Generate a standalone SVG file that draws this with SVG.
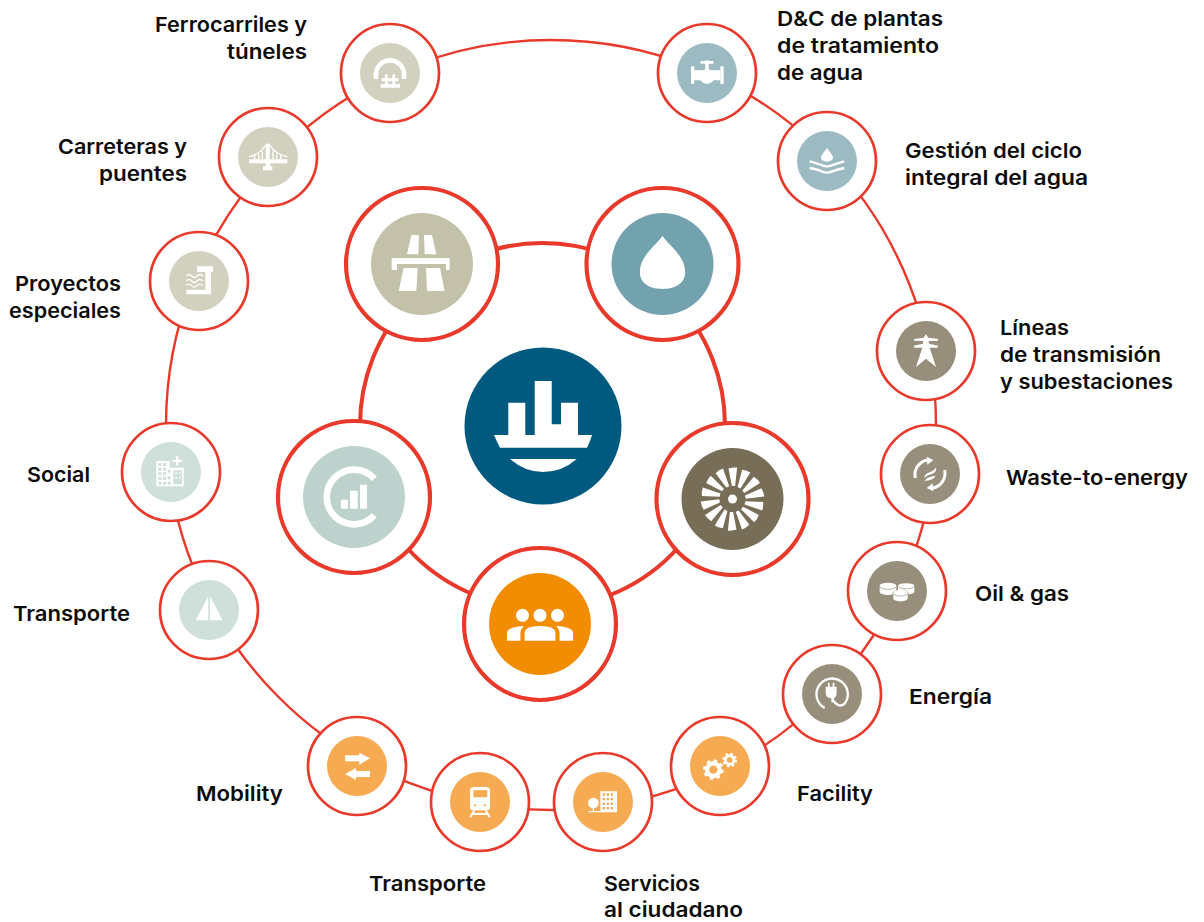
<svg xmlns="http://www.w3.org/2000/svg" xmlns:xlink="http://www.w3.org/1999/xlink" width="1204" height="922" viewBox="0 0 1204 922">
<style>
text{font-family:"Inter","Liberation Sans",sans-serif;font-weight:600;font-size:20.5px;fill:#0c0c0c}
.ring{fill:none;stroke:#e8392b}
.big{fill:#fff;stroke:#e8392b;stroke-width:4.2}
.sm{fill:#fff;stroke:#e8392b;stroke-width:2.7}
.w{fill:#fff}
.wl{fill:none;stroke:#fff}
.c1{fill:#d2d1c0}.c2{fill:#9bbac2}.c3{fill:#978f7b}.c4{fill:#f6aa52}.c5{fill:#cfdfd9}
</style>
<defs>
<path id="blade" d="M-4,-30.5 Q0.5,-32 4.6,-31.5 L2.6,-13 L-0.6,-13Z" fill="#fff"/>
</defs>
<rect width="1204" height="922" fill="#fff"/>
<g id="connectors">
<circle class="ring" cx="551" cy="425" r="385" stroke-width="2.4"/>
<circle class="ring" cx="542.5" cy="425.5" r="182.5" stroke-width="4"/>
</g>
<g id="node-center"><circle cx="543" cy="426" r="78.5" fill="#005a7f"/>
<path class="w" d="M508.3,402.7H525.3V435H534.7V381H551.7V424.3H561V402.7H578V435H592Q590,442 587,447.7H500Q497,442 494,435H508.3Z"/>
<path class="w" d="M510,459H576.7Q562,472 543,472Q525,472 510,459Z"/></g>
<g id="node-road"><circle class="big" cx="422" cy="264" r="76"/><circle cx="422" cy="264" r="51" fill="#c3c1aa"/>
<g class="w" transform="translate(422,264) scale(.3333)"><path d="M-32,-87H-9L-11,-29H-45Z"/><path d="M6,-87H30L43,-29H8Z"/><path d="M-91,-18H83V18H72V0H-75V18H-91Z"/><path d="M-55,12H-13L-17,81H-70Z"/><path d="M12,12H54L68,81H15Z"/></g></g>
<g id="node-water"><circle class="big" cx="662.5" cy="264" r="76"/><circle cx="662.5" cy="264" r="51" fill="#72a2ae"/>
<path class="w" transform="translate(662.5,264) scale(.3333)" d="M0,-84C-20,-55 -68,-25 -68,25C-68,60 -35,75 0,75C35,75 68,60 68,25C68,-25 20,-55 0,-84Z"/></g>
<g id="node-concession"><circle class="big" cx="354" cy="497" r="76"/><circle cx="354" cy="497" r="51" fill="#bdd2cc"/>
<g transform="translate(354,497) scale(.3333)"><path class="wl" stroke-width="20" d="M61,-55A82,82 0 1 0 61,55"/><path class="w" d="M-39,8H-18V35H-39ZM-12,-19H11V35H-12ZM18,-37H39V35H18Z"/></g></g>
<g id="node-turbine"><circle class="big" cx="732.5" cy="499" r="76"/><circle cx="732.5" cy="499" r="51" fill="#786e58"/>
<g transform="translate(732.5,499)"><circle r="4.5" class="w"/>
<use xlink:href="#blade"/><use xlink:href="#blade" transform="rotate(25.7)"/><use xlink:href="#blade" transform="rotate(51.4)"/><use xlink:href="#blade" transform="rotate(77.1)"/><use xlink:href="#blade" transform="rotate(102.9)"/><use xlink:href="#blade" transform="rotate(128.6)"/><use xlink:href="#blade" transform="rotate(154.3)"/><use xlink:href="#blade" transform="rotate(180)"/><use xlink:href="#blade" transform="rotate(205.7)"/><use xlink:href="#blade" transform="rotate(231.4)"/><use xlink:href="#blade" transform="rotate(257.1)"/><use xlink:href="#blade" transform="rotate(282.9)"/><use xlink:href="#blade" transform="rotate(308.6)"/><use xlink:href="#blade" transform="rotate(334.3)"/></g></g>
<g id="node-people"><circle class="big" cx="540" cy="624" r="76"/><circle cx="540" cy="624" r="51" fill="#f28c00"/>
<g class="w" transform="translate(540,624)"><circle cx="-17.5" cy="-8.7" r="6.5"/><circle cy="-8.7" r="6.5"/><circle cx="17.5" cy="-8.7" r="6.5"/>
<path d="M-15.4,16.7V9Q-15.4,2 0,2Q15.4,2 15.4,9V16.7Z"/><path d="M-33,16.7V9Q-33,3 -16,2Q-20,6 -19.6,10V16.7Z"/><path d="M33,16.7V9Q33,3 16,2Q20,6 19.6,10V16.7Z"/></g></g>

<g id="node-ferrocarriles"><circle class="sm" cx="390" cy="73" r="49"/><circle class="c1" cx="390" cy="73" r="30"/>
<g transform="translate(390,73) scale(.3333)"><path class="wl" stroke-width="14" d="M-42,18V4A42,42 0 0 1 42,4V18"/><path class="w" d="M-15,4H-7V16H7V4H15V16H25V25H15V33H7V25H-7V33H-15V25H-25V16H-15ZM-28,33H30V44H-28Z"/></g></g>
<g id="node-carreteras"><circle class="sm" cx="268" cy="157" r="49"/><circle class="c1" cx="268" cy="157" r="30"/>
<g transform="translate(268,157) scale(.3333)"><path class="w" d="M-56,7H58V19H7V28H13V40H-15V28H-7V19H-56ZM-7,-40H5V7H-7Z"/><path class="wl" stroke-width="4" d="M-56,-1Q-25,-8 -7,-36M5,-36Q23,-8 58,-1M-40,-4V7M-28,-10V7M-17,-18V7M15,-18V7M26,-10V7M38,-5V7"/></g></g>
<g id="node-especiales"><circle class="sm" cx="199" cy="281" r="49"/><circle class="c1" cx="199" cy="281" r="30"/>
<g transform="translate(199,281) scale(.3333)"><path class="w" d="M-38,26H19V-27H-6V-44H42V-27H36V40H-38Z"/><path class="wl" stroke-width="4" d="M-38,-15Q-30,-24 -22,-15T-6,-15T12,-15M-38,0Q-30,-9 -22,0T-6,0T12,0M-38,14Q-30,5 -22,14T-6,14T12,14"/></g></g>
<g id="node-social"><circle class="sm" cx="171" cy="472" r="49"/><circle class="c5" cx="171" cy="472" r="30"/>
<g transform="translate(170,472) scale(.3333)"><path class="w" d="M-41,-33H-1V-13H41V43H-41Z"/><path class="c5" d="M-35,-27h9v9h-9zM-21,-27h9v9h-9zM-35,-13h9v9h-9zM-21,-13h9v9h-9zM-7,-7h9v9h-9zM-35,1h9v9h-9zM-21,1h9v9h-9zM-35,15h9v9h-9zM-21,15h9v9h-9zM-7,13h9v9h-9zM-35,29h9v9h-9zM-21,29h9v9h-9zM-7,29h9v9h-9zM10,-5h26v42h-26z"/><path class="w" d="M16,1h5v5h-5zM16,15h5v5h-5zM27,1h5v5h-5zM27,15h5v5h-5zM18,-47h7v10h10v7h-10v10h-7v-10h-10v-7h10z"/></g></g>
<g id="node-transporte-social"><circle class="sm" cx="209" cy="610" r="49"/><circle class="c5" cx="209" cy="610" r="30"/>
<g class="w" transform="translate(209,610) scale(.3333)"><path d="M-2,-41L-40,31H-2Z"/><path d="M3,-41L41,31H3Z"/></g></g>
<g id="node-mobility"><circle class="sm" cx="357" cy="766" r="49"/><circle class="c4" cx="357" cy="766" r="30"/>
<g class="w" transform="translate(357,766) scale(.3333)"><path d="M-36,-32H7V-40L39,-23L7,-4V-14H-36Z"/><path d="M39,15H-3V6L-36,24L-3,42V33H39Z"/></g></g>
<g id="node-transporte"><circle class="sm" cx="480" cy="802" r="49"/><circle class="c4" cx="480" cy="802" r="30"/>
<g transform="translate(480,802) scale(.3333)"><path class="w" d="M-18,-45H18Q30,-45 30,-33V15Q30,25 18,25H-18Q-30,25 -30,15V-33Q-30,-45 -18,-45Z"/><rect class="c4" x="-20" y="-35" width="42" height="21" rx="3"/><circle class="c4" cx="-15" cy="10" r="3.5"/><circle class="c4" cx="15" cy="10" r="3.5"/><path class="wl" stroke-width="6" d="M-17,25L-29,46M17,25L29,46M-24,36H24"/></g></g>
<g id="node-servicios"><circle class="sm" cx="603" cy="802" r="49"/><circle class="c4" cx="603" cy="802" r="30"/>
<g transform="translate(603,802) scale(.3333)"><path class="w" d="M-8,-32H42V28H-8ZM-44,27H42V31H-44ZM-31,8h4v20h-4z"/><circle class="w" cx="-29" cy="3" r="16"/><path class="c4" d="M-1,-26h7v7h-7zM11,-26h7v7h-7zM23,-26h7v7h-7zM-1,-12h7v7h-7zM11,-12h7v7h-7zM23,-12h7v7h-7zM-1,2h7v7h-7zM11,2h7v7h-7zM23,2h7v7h-7zM-1,15h7v7h-7zM11,15h7v7h-7zM23,15h7v7h-7z"/></g></g>
<g id="node-facility"><circle class="sm" cx="720" cy="766" r="49"/><circle class="c4" cx="720" cy="766" r="30"/>
<g transform="translate(720,766) scale(.3333)"><circle cx="-20" cy="11" r="19" class="wl" stroke-width="13"/><circle cx="-20" cy="11" r="27" class="wl" stroke-width="8" stroke-dasharray="10.2 11"/><circle cx="29" cy="-18" r="13" class="wl" stroke-width="9"/><circle cx="29" cy="-18" r="19" class="wl" stroke-width="6" stroke-dasharray="7.5 7.4"/></g></g>
<g id="node-energia"><circle class="sm" cx="832" cy="694" r="49"/><circle class="c3" cx="832" cy="694" r="30"/>
<g transform="translate(832,694) scale(.3333)"><path class="wl" stroke-width="7" d="M-22,42A47,47 0 1 1 38,29Q28,38 17,32Q8,27 5,20"/><path class="w" d="M-19,-22H-12V-34H-7V-22H2V-34H7V-22H14V-3Q14,13 1,13Q-19,13 -19,-3Z"/><path class="w" d="M-2,12H6V25H-2Z"/></g></g>
<g id="node-oil"><circle class="sm" cx="897" cy="591" r="49"/><circle class="c3" cx="897" cy="591" r="30"/>
<g transform="translate(897,591) scale(.3333)" class="w"><path d="M-52,-16A25,9 0 0 1 -2,-16V3A25,9 0 0 1 -52,3Z"/><path d="M3,-16A25,9 0 0 1 52,-16V3A25,9 0 0 1 3,3Z"/><path class="c3" d="M-13,5A24,10 0 0 1 34,5V27H-13Z"/><path d="M-11,5A21,8 0 0 1 32,5V23A21,8 0 0 1 -11,23Z"/><path class="wl" style="stroke:#978f7b" stroke-width="2" d="M-52,-14A25,9 0 0 0 -2,-14M3,-14A25,9 0 0 0 52,-14M-11,7A21,8 0 0 0 32,7"/></g></g>
<g id="node-waste"><circle class="sm" cx="930" cy="474" r="49"/><circle class="c3" cx="930" cy="474" r="30"/>
<g transform="translate(930,474) scale(.3333)"><path class="wl" stroke-width="9" d="M-44,12A45,45 0 0 1 -8,-42M44,-12A45,45 0 0 1 8,42"/><path class="w" d="M-10,-52L10,-42L-8,-28ZM10,52L-10,42L8,28Z"/><path class="w" d="M18,-20Q12,-8 -5,-4Q-18,2 -17,13Q-10,3 6,0Q22,-6 18,-20ZM-17,20Q-8,10 8,7Q17,4 17,6Q10,16 2,17Q-8,21 -17,20Z"/></g></g>
<g id="node-lineas"><circle class="sm" cx="926" cy="351" r="49"/><circle class="c3" cx="926" cy="351" r="30"/>
<g class="w" transform="translate(926,351) scale(.3333)"><path d="M0,-50L7,-40L36,-36L36,-31L8,-30L9,-22L36,-16L35,-10L11,-10L30,48L0,23L-30,48L-11,-10L-35,-10L-36,-16L-9,-22L-8,-30L-36,-31L-36,-36L-7,-40Z"/></g></g>
<g id="node-gestion"><circle class="sm" cx="827" cy="161" r="49"/><circle class="c2" cx="827" cy="161" r="30"/>
<g transform="translate(827,161) scale(.3333)"><path class="w" d="M0,-40C-6,-28 -18,-20 -18,-9A18,11 0 0 0 18,-9C18,-20 6,-28 0,-40Z"/><path class="wl" stroke-width="7" d="M-52,1Q-26,8 -14,13Q0,19 14,13Q28,8 52,1M-52,21Q-26,26 -14,32Q0,38 14,32Q28,26 52,21"/></g></g>
<g id="node-dc"><circle class="sm" cx="707" cy="73" r="49"/><circle class="c2" cx="707" cy="73" r="30"/>
<g class="w" transform="translate(707,73) scale(.3333)"><rect x="-48" y="-20" width="10" height="53" rx="2"/><rect x="40" y="-20" width="10" height="53" rx="2"/><path d="M-40,-8H-12Q-8,-10 -5,-12V-28H5V-12Q8,-10 12,-8H40V22H20Q10,34 0,32Q-10,34 -20,22H-40Z"/><rect x="-20" y="-36" width="40" height="8" rx="2"/><rect x="-5" y="-38" width="10" height="12"/></g></g>

<g id="labels">
<text lengthAdjust="spacingAndGlyphs" x="155" y="32" textLength="152">Ferrocarriles y</text>
<text lengthAdjust="spacingAndGlyphs" x="227" y="59" textLength="80">túneles</text>
<text lengthAdjust="spacingAndGlyphs" x="58" y="154" textLength="129">Carreteras y</text>
<text lengthAdjust="spacingAndGlyphs" x="99" y="181" textLength="88">puentes</text>
<text lengthAdjust="spacingAndGlyphs" x="15" y="291" textLength="106">Proyectos</text>
<text lengthAdjust="spacingAndGlyphs" x="9" y="318" textLength="112">especiales</text>
<text lengthAdjust="spacingAndGlyphs" x="27" y="482" textLength="63">Social</text>
<text lengthAdjust="spacingAndGlyphs" x="13" y="621" textLength="117">Transporte</text>
<text lengthAdjust="spacingAndGlyphs" x="196" y="801" textLength="87">Mobility</text>
<text lengthAdjust="spacingAndGlyphs" x="369" y="891" textLength="117">Transporte</text>
<text lengthAdjust="spacingAndGlyphs" x="604" y="891" textLength="96">Servicios</text>
<text lengthAdjust="spacingAndGlyphs" x="604" y="917" textLength="139">al ciudadano</text>
<text lengthAdjust="spacingAndGlyphs" x="797" y="801" textLength="76">Facility</text>
<text lengthAdjust="spacingAndGlyphs" x="909" y="704" textLength="83">Energía</text>
<text lengthAdjust="spacingAndGlyphs" x="975" y="601" textLength="94">Oil &amp; gas</text>
<text lengthAdjust="spacingAndGlyphs" x="1006" y="485" textLength="182">Waste-to-energy</text>
<text lengthAdjust="spacingAndGlyphs" x="1000" y="335" textLength="69">Líneas</text>
<text lengthAdjust="spacingAndGlyphs" x="1000" y="362" textLength="161">de transmisión</text>
<text lengthAdjust="spacingAndGlyphs" x="1000" y="389" textLength="173">y subestaciones</text>
<text lengthAdjust="spacingAndGlyphs" x="905" y="158" textLength="177">Gestión del ciclo</text>
<text lengthAdjust="spacingAndGlyphs" x="905" y="185" textLength="183">integral del agua</text>
<text lengthAdjust="spacingAndGlyphs" x="777" y="26" textLength="166">D&amp;C de plantas</text>
<text lengthAdjust="spacingAndGlyphs" x="777" y="53" textLength="162">de tratamiento</text>
<text lengthAdjust="spacingAndGlyphs" x="777" y="80" textLength="86">de agua</text>
</g>
</svg>
